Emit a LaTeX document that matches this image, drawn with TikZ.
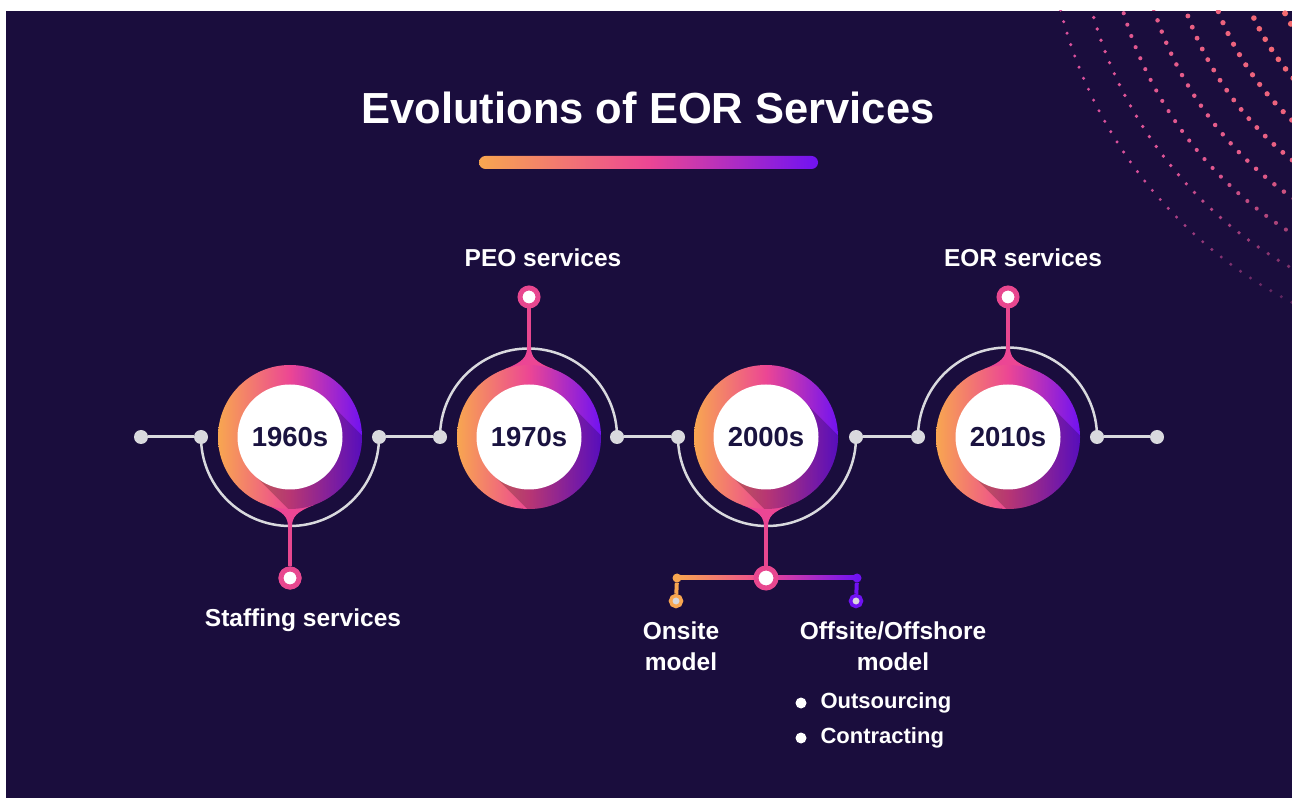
\documentclass[tikz,border=0pt]{standalone}
\usepackage{fontspec}
\setmainfont{Liberation Sans}
\usetikzlibrary{calc}

\definecolor{navy}{HTML}{1A0D3D}
\definecolor{dotgray}{HTML}{D9D9DE}
\definecolor{ringorange}{HTML}{F8A650}
\definecolor{ringpink}{HTML}{EC4694}
\definecolor{ringviolet}{HTML}{7012F2}
\definecolor{pinpink}{HTML}{E8478F}
\definecolor{yeartext}{HTML}{1A1340}
\definecolor{dotsalmon}{HTML}{F56B70}
\definecolor{dotpink}{HTML}{D9509E}

\tikzset{
  gdot/.style={circle, fill=dotgray, inner sep=0, minimum size=14},
  gline/.style={dotgray, line width=3},
  garc/.style={dotgray, line width=2.5},
  ring/.style={circle, inner sep=0, minimum size=144, left color=ringorange, right color=ringviolet, middle color=ringpink},
  face/.style={circle, fill=white, inner sep=0, minimum size=105, text=yeartext, font=\fontsize{27.5}{30}\selectfont\bfseries},
  pinhead/.style={circle, draw=pinpink, line width=5, fill=white, inner sep=0, minimum size=18},
  pinline/.style={pinpink, line width=4},
  subpin/.style={circle, draw=#1, line width=3.5, fill=dotgray, inner sep=0, minimum size=11},
  subdot/.style={circle, fill=#1, inner sep=0, minimum size=9},
  lbl/.style={text=white, font=\fontsize{24.5}{31}\selectfont\bfseries, align=center},
  bul/.style={circle, fill=white, inner sep=0, minimum size=11},
}

% pointed end of a ring, #2 = 0 for down, 180 for up
\newcommand{\droptip}[2]{%
  \fill[ringpink, shift={(#1)}, rotate=#2] (-24,-68) .. controls (-6,-75) and (-2,-80) .. (-2,-90)
    -- (2,-90) .. controls (2,-80) and (6,-75) .. (24,-68) -- cycle;}
% long shadow of the white face inside a ring
\newcommand{\ringshade}[1]{%
  \begin{scope}
    \clip (#1) circle (72);
    \fill[black, opacity=.22] ($(#1)+(45:52)$) -- ++(-45:110) -- ($(#1)+(225:52)+(-45:110)$) -- ($(#1)+(225:52)$) -- cycle;
  \end{scope}}

\begin{document}
\begin{tikzpicture}[x=1pt, y=1pt]
\useasboundingbox (0,0) rectangle (1292,798);
\fill[white] (0,0) rectangle (1292,798);
\fill[navy] (6,0) rectangle (1292,787);

% dotted arcs in the corner
\begin{scope}
  \clip (6,0) rectangle (1292,787);
  \foreach \r [count=\k] in {243,273,...,453} {
    \pgfmathsetmacro\dr{3.2-\k*0.19}
    \pgfmathtruncatemacro\mix{(\k-1)*14}
    \foreach \n in {0,...,40} {
      \pgfmathsetmacro\th{188+\n*12/\r*57.3}
      \pgfmathsetmacro\yy{898+\r*sin(\th)}
      \pgfmathsetmacro\op{max(0,min(1,(\yy-430)/200))}
      \fill[dotpink!\mix!dotsalmon, opacity=\op] ({1500+\r*cos(\th)},\yy) circle (\dr);
    }
  }
\end{scope}

% title
\node[text=white, font=\fontsize{43.5}{48}\selectfont\bfseries] (title) at (648,690) {Evolutions of EOR Services};
\node[rectangle, rounded corners=6.5, minimum width=339, minimum height=13, inner sep=0,
      left color=ringorange, right color=ringviolet, middle color=ringpink] (bar) at (648.5,635.5) {};

% timeline dots
\node[gdot] (d1) at (141,361) {};
\node[gdot] (d2) at (201,361) {};
\node[gdot] (d3) at (379,361) {};
\node[gdot] (d4) at (440,361) {};
\node[gdot] (d5) at (617,361) {};
\node[gdot] (d6) at (678,361) {};
\node[gdot] (d7) at (856,361) {};
\node[gdot] (d8) at (918,361) {};
\node[gdot] (d9) at (1097,361) {};
\node[gdot] (d10) at (1157,361) {};
\draw[gline] (d1) -- (d2);
\draw[gline] (d3) -- (d4);
\draw[gline] (d5) -- (d6);
\draw[gline] (d7) -- (d8);
\draw[gline] (d9) -- (d10);
\draw[garc] (d2.center) arc[start angle=180, end angle=360, radius=89];
\draw[garc] (d4.center) arc[start angle=180, end angle=0, radius=88.5];
\draw[garc] (d6.center) arc[start angle=180, end angle=360, radius=89];
\draw[garc] (d8.center) arc[start angle=180, end angle=0, radius=89.5];

% pins
\node[pinhead] (p60) at (290,220) {};
\node[pinhead] (p70) at (529,501) {};
\node[pinhead] (p00) at (766,220) {};
\node[pinhead] (p10) at (1008,501) {};

% rings
\coordinate (c60) at (290,361);
\coordinate (c70) at (529,361);
\coordinate (c00) at (766,361);
\coordinate (c10) at (1008,361);
\draw[pinline] (p60) -- (c60);
\draw[pinline] (p70) -- (c70);
\draw[pinline] (p00) -- (c00);
\draw[pinline] (p10) -- (c10);
\droptip{c60}{0}
\droptip{c70}{180}
\droptip{c00}{0}
\droptip{c10}{180}
\node[ring] (r60) at (c60) {};
\node[ring] (r70) at (c70) {};
\node[ring] (r00) at (c00) {};
\node[ring] (r10) at (c10) {};
\ringshade{c60}
\ringshade{c70}
\ringshade{c00}
\ringshade{c10}
\node[face] (y60) at (c60) {1960s};
\node[face] (y70) at (c70) {1970s};
\node[face] (y00) at (c00) {2000s};
\node[face] (y10) at (c10) {2010s};
\node[pinhead] at (p60) {};

% branch below 2000s
\node[subdot=ringorange] (bl) at (677,220) {};
\node[subdot=ringviolet] (br) at (857,220) {};
\fill[left color=ringorange, right color=ringpink] ($(bl)+(0,-2)$) rectangle ($(p00)+(0,2)$);
\fill[left color=ringpink, right color=ringviolet] ($(p00)+(0,-2)$) rectangle ($(br)+(0,2)$);
\node[pinhead, minimum size=20] at (p00) {};
\node[subpin=ringorange] (on) at (676,197) {};
\node[subpin=ringviolet] (off) at (856,197) {};
\draw[ringorange, line width=4] (bl) -- (on);
\draw[ringviolet, line width=4] (br) -- (off);

% labels
\node[lbl] (l60) at (303,178) {Staffing services};
\node[lbl] (l70) at (543,540) {PEO services};
\node[lbl] (l10) at (1023,540) {EOR services};
\node[lbl] (lon) at (681,152) {Onsite\\model};
\node[lbl] (loff) at (893,152) {Offsite/Offshore\\model};
\node[bul] (b1) at (801,95) {};
\node[bul] (b2) at (801,60) {};
\node[lbl, font=\fontsize{22}{26}\selectfont\bfseries, anchor=west] (t1) at (817,95) {Outsourcing};
\node[lbl, font=\fontsize{22}{26}\selectfont\bfseries, anchor=west] (t2) at (817,60) {Contracting};
\end{tikzpicture}
\end{document}
